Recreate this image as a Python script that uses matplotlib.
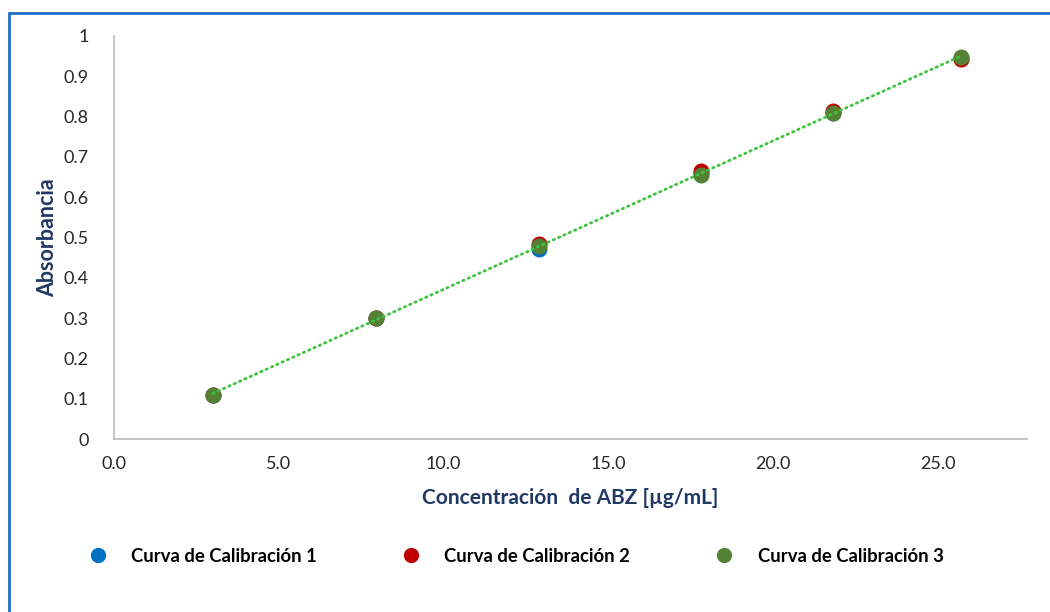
import matplotlib.pyplot as plt
import matplotlib.patches as patches
import numpy as np

# data
conc = [3.0, 7.95, 12.9, 17.8, 21.8, 25.7]
curva1 = [0.110, 0.300, 0.471, 0.660, 0.810, 0.945]
curva2 = [0.110, 0.300, 0.484, 0.664, 0.813, 0.942]
curva3 = [0.110, 0.300, 0.479, 0.656, 0.809, 0.949]
series_names = ['Curva de Calibración 1', 'Curva de Calibración 2', 'Curva de Calibración 3']
x_ticks = [0, 5, 10, 15, 20, 25]
y_ticks = [0, 0.1, 0.2, 0.3, 0.4, 0.5, 0.6, 0.7, 0.8, 0.9, 1]
y_labels = ['0', '0.1', '0.2', '0.3', '0.4', '0.5', '0.6', '0.7', '0.8', '0.9', '1']

colors = ['#0070C0', '#C00000', '#548235']
navy = '#1F3864'

plt.rcParams['font.family'] = ['Lato', 'DejaVu Sans']

fig = plt.figure(figsize=(10.5, 6.12), dpi=100)
ax = fig.add_axes([114 / 1050, 1 - 439 / 612, (1027 - 114) / 1050, (439 - 36) / 612])

# outer blue frame (runs off the right and bottom edges)
fig.patches.append(patches.Rectangle((9 / 1050, -0.05), 1.2, 1 - 13 / 612 + 0.05,
                                     transform=fig.transFigure, fill=False,
                                     edgecolor='#1F6FC5', linewidth=2, zorder=0))

for ys, c, name in zip([curva1, curva2, curva3], colors, series_names):
    ax.plot(conc, ys, linestyle='none', marker='o', markersize=10.5,
            color=c, label=name, zorder=3)

# linear trendline (dotted) of series 3
m, b = np.polyfit(conc, curva3, 1)
xt = np.array([conc[0], conc[-1]])
ax.plot(xt, m * xt + b, linestyle=(0, (0.5, 1.6)), color='#3CC43C',
        linewidth=2.0, dash_capstyle='round', zorder=4)

ax.set_xlim(0, 27.7)
ax.set_ylim(0, 1)
ax.set_xticks(x_ticks)
ax.set_xticklabels([f'{v:.1f}' for v in x_ticks])
ax.set_yticks(y_ticks)
ax.set_yticklabels(y_labels)
ax.tick_params(length=0, labelsize=13, colors='#262626')
ax.tick_params(axis='x', pad=12)
ax.tick_params(axis='y', pad=18)

for s in ['top', 'right']:
    ax.spines[s].set_visible(False)
for s in ['left', 'bottom']:
    ax.spines[s].set_color('#BFBFBF')
    ax.spines[s].set_linewidth(1.3)

ax.set_xlabel('Concentración  de ABZ [µg/mL]', fontsize=15, fontweight='bold',
              color=navy, labelpad=12)
ax.set_ylabel('Absorbancia', fontsize=15.5, fontweight='bold', color=navy, labelpad=4)

fig.legend(loc='center', bbox_to_anchor=(0.487, 1 - 556 / 612), ncol=3, frameon=False,
           prop={'size': 13.3, 'weight': 'bold'}, handletextpad=0.8,
           columnspacing=4.1, markerscale=0.95)

fig.savefig('out.png', dpi=100, facecolor='white')
